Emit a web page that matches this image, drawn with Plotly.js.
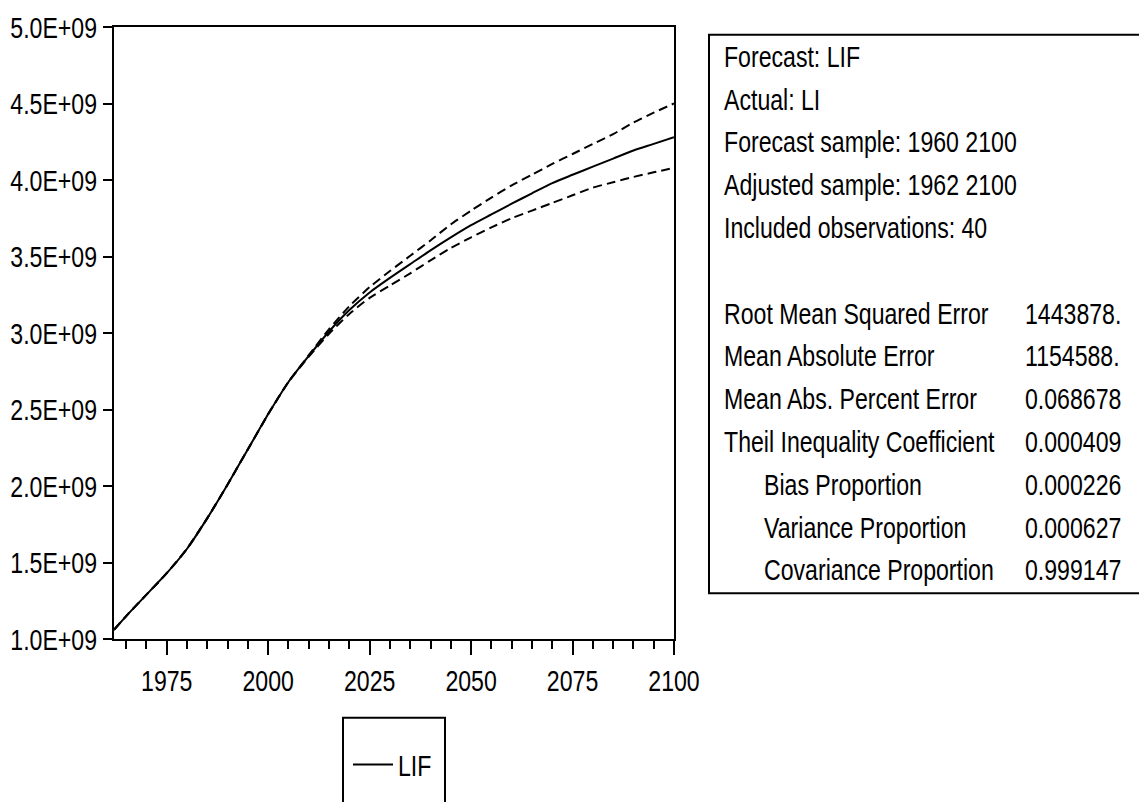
<!DOCTYPE html>
<html>
<head>
<meta charset="utf-8">
<script src="https://cdn.plot.ly/plotly-3.0.1.min.js"></script>
<style>
  html, body { margin: 0; padding: 0; background: #ffffff; }
  #chart { width: 1139px; height: 802px; }
</style>
</head>
<body>
<div id="chart"></div>
<script>
// Forecast of LI (series LIF) with +/- 2 S.E. band, 1962-2100
const years = [1962, 1965, 1970, 1975, 1980, 1985, 1990, 1995, 2000, 2005,
               2010, 2015, 2020, 2025, 2030, 2035, 2040, 2045, 2050, 2055,
               2060, 2065, 2070, 2075, 2080, 2085, 2090, 2095, 2100];

const lif = [1.06e9, 1.15e9, 1.29e9, 1.43e9, 1.59e9, 1.79e9, 2.01e9, 2.24e9, 2.47e9, 2.68e9,
             2.85e9, 3.01e9, 3.15e9, 3.265e9, 3.36e9, 3.45e9, 3.54e9, 3.625e9, 3.705e9, 3.775e9,
             3.845e9, 3.913e9, 3.98e9, 4.034e9, 4.087e9, 4.14e9, 4.193e9, 4.236e9, 4.28e9];

const lifUpper = [1.06e9, 1.15e9, 1.29e9, 1.43e9, 1.59e9, 1.79e9, 2.01e9, 2.24e9, 2.47e9, 2.68e9,
                  2.855e9, 3.025e9, 3.175e9, 3.30e9, 3.405e9, 3.505e9, 3.605e9, 3.71e9, 3.80e9, 3.885e9,
                  3.965e9, 4.035e9, 4.105e9, 4.17e9, 4.235e9, 4.30e9, 4.375e9, 4.44e9, 4.50e9];

const lifLower = [1.06e9, 1.15e9, 1.29e9, 1.43e9, 1.59e9, 1.79e9, 2.01e9, 2.24e9, 2.47e9, 2.68e9,
                  2.845e9, 2.995e9, 3.125e9, 3.23e9, 3.31e9, 3.39e9, 3.475e9, 3.555e9, 3.625e9, 3.69e9,
                  3.75e9, 3.80e9, 3.85e9, 3.90e9, 3.95e9, 3.985e9, 4.02e9, 4.05e9, 4.08e9];

// Axis ticks
const yTickVals = [1.0e9, 1.5e9, 2.0e9, 2.5e9, 3.0e9, 3.5e9, 4.0e9, 4.5e9, 5.0e9];
const yTickText = ["1.0E+09", "1.5E+09", "2.0E+09", "2.5E+09", "3.0E+09",
                   "3.5E+09", "4.0E+09", "4.5E+09", "5.0E+09"];
const xTickVals = [1975, 2000, 2025, 2050, 2075, 2100];
const xTickText = ["1975", "2000", "2025", "2050", "2075", "2100"];

// Forecast evaluation table
const infoLines = ["Forecast: LIF", "Actual: LI", "Forecast sample: 1960 2100",
                   "Adjusted sample: 1962 2100", "Included observations: 40"];
const statNames = ["Root Mean Squared Error", "Mean Absolute Error", "Mean Abs. Percent Error",
                   "Theil Inequality Coefficient", "Bias Proportion", "Variance Proportion",
                   "Covariance Proportion"];
const statValues = ["1443878.", "1154588.", "0.068678", "0.000409", "0.000226", "0.000627", "0.999147"];
const statIndent = [false, false, false, false, true, true, true];

// ---- layout helpers (pixel -> paper coordinates of the plotting area) ----
const PL = 114, PR = 674, PT = 27, PB = 656;
const W = 1139, H = 802;
const xp = px => (px - PL) / (PR - PL);
const yp = py => (PB - py) / (PB - PT);

const FONT = "'Liberation Sans', Arial, sans-serif";
const FS = 30;          // glyph height
const NARROW = 0.77;    // horizontal condensing applied to all text

// text table geometry: one row every ROW px, a blank row between the two blocks
const ROW = 44, ROW0 = 57;
const rowY = k => ROW0 + k * ROW;

const traces = [
  {
    x: years, y: lifUpper, type: "scatter", mode: "lines", name: "upper",
    showlegend: false, hoverinfo: "skip",
    line: { color: "#000000", width: 2, dash: "9px,5px", shape: "spline", smoothing: 0.6 }
  },
  {
    x: years, y: lifLower, type: "scatter", mode: "lines", name: "lower",
    showlegend: false, hoverinfo: "skip",
    line: { color: "#000000", width: 2, dash: "9px,5px", shape: "spline", smoothing: 0.6 }
  },
  {
    x: years, y: lif, type: "scatter", mode: "lines", name: "LIF",
    line: { color: "#000000", width: 2, shape: "spline", smoothing: 0.6 }
  }
];

const annotations = [];
infoLines.forEach((t, i) => {
  annotations.push({
    xref: "paper", yref: "paper", x: xp(722), y: yp(rowY(i)),
    xanchor: "left", yanchor: "middle", showarrow: false, text: t,
    font: { family: FONT, size: FS, color: "#000000" }
  });
});
statNames.forEach((t, i) => {
  const k = infoLines.length + 1 + i;
  annotations.push({
    xref: "paper", yref: "paper", x: xp(statIndent[i] ? 762 : 722), y: yp(rowY(k)),
    xanchor: "left", yanchor: "middle", showarrow: false, text: t,
    font: { family: FONT, size: FS, color: "#000000" }
  });
  annotations.push({
    xref: "paper", yref: "paper", x: xp(1023), y: yp(rowY(k)),
    xanchor: "left", yanchor: "middle", showarrow: false, text: statValues[i],
    font: { family: FONT, size: FS, color: "#000000" }
  });
});

const shapes = [
  // evaluation table frame
  { type: "rect", xref: "paper", yref: "paper",
    x0: xp(709), x1: xp(1170), y0: yp(609), y1: yp(35),
    line: { color: "#000000", width: 2 }, fillcolor: "rgba(0,0,0,0)" },
  // legend frame
  { type: "rect", xref: "paper", yref: "paper",
    x0: xp(343), x1: xp(445), y0: yp(737), y1: yp(840),
    line: { color: "#000000", width: 2 }, fillcolor: "rgba(0,0,0,0)" }
];

const layout = {
  width: W, height: H,
  margin: { l: PL, r: W - PR, t: PT, b: H - PB, pad: 0 },
  paper_bgcolor: "#ffffff", plot_bgcolor: "#ffffff",
  font: { family: FONT, size: FS, color: "#000000" },
  showlegend: true,
  legend: {
    x: xp(348), y: yp(785), xanchor: "left", yanchor: "middle",
    bgcolor: "rgba(0,0,0,0)", borderwidth: 0, itemwidth: 40,
    font: { family: FONT, size: FS, color: "#000000" }
  },
  xaxis: {
    range: [1962, 2100], tickmode: "array", tickvals: xTickVals, ticktext: xTickText,
    ticks: "outside", ticklen: 14, tickwidth: 2, tickcolor: "#000000",
    showline: true, linewidth: 2, linecolor: "#000000", mirror: true,
    showgrid: false, zeroline: false,
    minor: { dtick: 5, tick0: 1965, ticks: "outside", ticklen: 8, tickwidth: 2,
             tickcolor: "#000000", showgrid: false },
    tickfont: { family: FONT, size: FS, color: "#000000" }
  },
  yaxis: {
    range: [1.0e9, 5.0e9], tickmode: "array", tickvals: yTickVals, ticktext: yTickText,
    ticks: "outside", ticklen: 9, tickwidth: 2, tickcolor: "#000000",
    showline: true, linewidth: 2, linecolor: "#000000", mirror: true,
    showgrid: false, zeroline: false,
    tickfont: { family: FONT, size: FS, color: "#000000" }
  },
  annotations: annotations,
  shapes: shapes
};

// Condense every text element horizontally, keeping its anchor edge fixed
function condenseText(gd) {
  gd.querySelectorAll("text").forEach(t => {
    if (!t.textContent) return;
    const bb = t.getBBox();
    const inAnnotation = t.closest(".annotation") !== null;
    const anchor = inAnnotation ? "start" : (t.getAttribute("text-anchor") || "start");
    let ax = bb.x;
    if (anchor === "end") ax = bb.x + bb.width;
    else if (anchor === "middle") ax = bb.x + bb.width / 2;
    const prev = t.getAttribute("transform") || "";
    t.setAttribute("transform",
      prev + " translate(" + ax + ",0) scale(" + NARROW + ",1) translate(" + (-ax) + ",0)");
  });
}

Plotly.newPlot("chart", traces, layout, { staticPlot: true, displayModeBar: false })
  .then(condenseText);
</script>
</body>
</html>
